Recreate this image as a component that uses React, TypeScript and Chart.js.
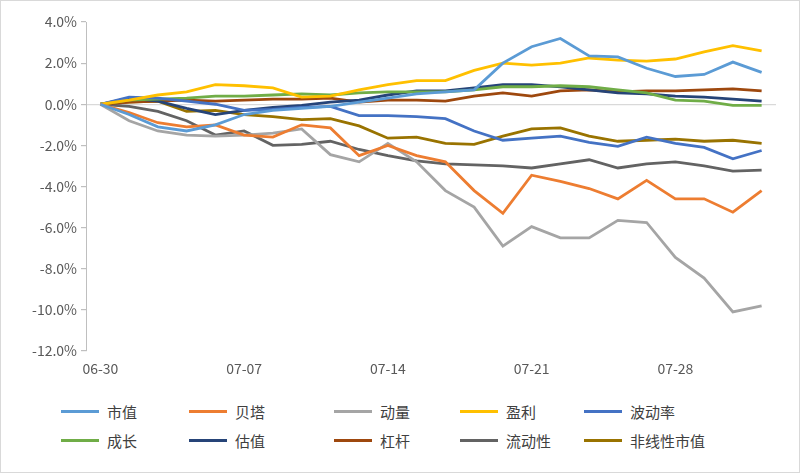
import React, { useEffect, useRef } from "react";
import { Chart, registerables } from "chart.js";
Chart.register(...registerables);

const dates = ["06-30","07-03","07-04","07-05","07-06","07-07","07-10","07-11","07-12","07-13","07-14","07-17","07-18","07-19","07-20","07-21","07-24","07-25","07-26","07-27","07-28","07-31","08-01","08-02"];
const shownLabels = ["06-30","07-07","07-14","07-21","07-28"];
const seriesNames = ["市值","贝塔","动量","盈利","波动率","成长","估值","杠杆","流动性","非线性市值"];
const seriesColors = ["#5B9BD5","#ED7D31","#A5A5A5","#FFC000","#4472C4","#70AD47","#264478","#9E480E","#636363","#997300"];
const shizhi = [0,-0.5,-1.1,-1.3,-1.0,-0.5,-0.3,-0.2,-0.1,0.1,0.3,0.5,0.6,0.7,2.0,2.8,3.2,2.35,2.3,1.75,1.35,1.45,2.05,1.55];
const beita = [0,-0.4,-0.9,-1.1,-1.0,-1.5,-1.6,-1.0,-1.15,-2.5,-2.0,-2.5,-2.8,-4.2,-5.3,-3.45,-3.75,-4.1,-4.6,-3.7,-4.6,-4.6,-5.25,-4.2];
const dongliang = [0,-0.8,-1.3,-1.5,-1.55,-1.5,-1.4,-1.2,-2.45,-2.8,-1.9,-2.8,-4.2,-5.0,-6.9,-5.95,-6.5,-6.5,-5.65,-5.75,-7.45,-8.45,-10.1,-9.8];
const yingli = [0,0.2,0.45,0.6,0.95,0.9,0.8,0.35,0.4,0.7,0.95,1.15,1.15,1.65,2.0,1.9,2.0,2.25,2.15,2.1,2.2,2.55,2.85,2.6];
const bodong = [0,0.35,0.3,0.15,0.0,-0.3,-0.25,-0.15,-0.1,-0.55,-0.55,-0.6,-0.7,-1.3,-1.75,-1.65,-1.55,-1.85,-2.05,-1.6,-1.9,-2.1,-2.65,-2.25];
const chengzhang = [0,0.2,0.25,0.3,0.4,0.4,0.45,0.5,0.45,0.55,0.6,0.6,0.6,0.7,0.85,0.85,0.9,0.85,0.7,0.55,0.2,0.15,-0.05,-0.05];
const guzhi = [0,0.3,0.15,-0.2,-0.5,-0.3,-0.15,-0.05,0.1,0.2,0.45,0.65,0.65,0.8,0.95,0.95,0.85,0.7,0.55,0.5,0.4,0.35,0.25,0.15];
const gangan = [0,0.1,0.15,0.2,0.15,0.2,0.25,0.25,0.3,0.1,0.2,0.2,0.15,0.4,0.55,0.4,0.65,0.7,0.6,0.65,0.65,0.7,0.75,0.65];
const liudong = [0,-0.1,-0.35,-0.8,-1.5,-1.3,-2.0,-1.95,-1.8,-2.2,-2.5,-2.75,-2.9,-2.95,-3.0,-3.1,-2.9,-2.7,-3.1,-2.9,-2.8,-3.0,-3.25,-3.2];
const feixian = [0,0.1,0.15,-0.35,-0.3,-0.5,-0.6,-0.75,-0.7,-1.05,-1.65,-1.6,-1.9,-1.95,-1.55,-1.2,-1.15,-1.55,-1.8,-1.75,-1.7,-1.8,-1.75,-1.9];
const seriesData = [shizhi,beita,dongliang,yingli,bodong,chengzhang,guzhi,gangan,liudong,feixian];

const FONT = "'Noto Sans CJK SC', 'Noto Sans', sans-serif";
const legendCols = [60, 188, 333, 459, 583];

export default function App() {
  const ref = useRef<HTMLCanvasElement>(null);
  useEffect(() => {
    document.body.style.margin = "0";
    const chart = new Chart(ref.current!, {
      type: "line",
      data: {
        labels: dates,
        datasets: seriesNames.map((n, i) => ({
          label: n,
          data: seriesData[i],
          borderColor: seriesColors[i],
          backgroundColor: seriesColors[i],
          borderWidth: 2.8,
          pointRadius: 0,
          tension: 0,
        })),
      },
      options: {
        animation: false,
        responsive: false,
        layout: { padding: { left: 10, right: 23, top: 21, bottom: 0 } },
        plugins: { legend: { display: false }, tooltip: { enabled: false } },
        scales: {
          x: {
            offset: true,
            grid: { display: false },
            border: { display: false },
            afterFit: (s: any) => { s.height = 35; },
            ticks: {
              autoSkip: false,
              maxRotation: 0,
              color: "#595959",
              font: { family: FONT, size: 14 },
              padding: 1,
              callback: (_v: any, i: number) => (shownLabels.includes(dates[i]) ? dates[i] : ""),
            },
          },
          y: {
            min: -12,
            max: 4,
            afterFit: (s: any) => { s.width = 75; },
            border: { display: true, color: "#bfbfbf" },
            grid: {
              color: (c: any) => (c.tick && c.tick.value === 0 ? "#d9d9d9" : "transparent"),
              tickColor: "#bfbfbf",
              tickLength: 5,
              lineWidth: 1.2,
            },
            ticks: {
              stepSize: 2,
              color: "#595959",
              font: { family: FONT, size: 14 },
              padding: 4,
              callback: (v: any) => Number(v).toFixed(1) + "%",
            },
          },
        },
      },
    });
    return () => chart.destroy();
  }, []);
  return (
    <div style={{ position: "relative", width: 800, height: 473, background: "#fff", boxSizing: "border-box", border: "1px solid #d9d9d9", overflow: "hidden" }}>
      <canvas ref={ref} width={798} height={385} style={{ display: "block" }} />
      {seriesNames.map((n, i) => (
        <div key={n} style={{ position: "absolute", left: legendCols[i % 5], top: i < 5 ? 400 : 429, display: "flex", alignItems: "center", fontFamily: FONT, fontSize: 15, color: "#404040" }}>
          <span style={{ display: "inline-block", width: 38, height: 3, background: seriesColors[i], marginRight: 8 }} />
          {n}
        </div>
      ))}
    </div>
  );
}
